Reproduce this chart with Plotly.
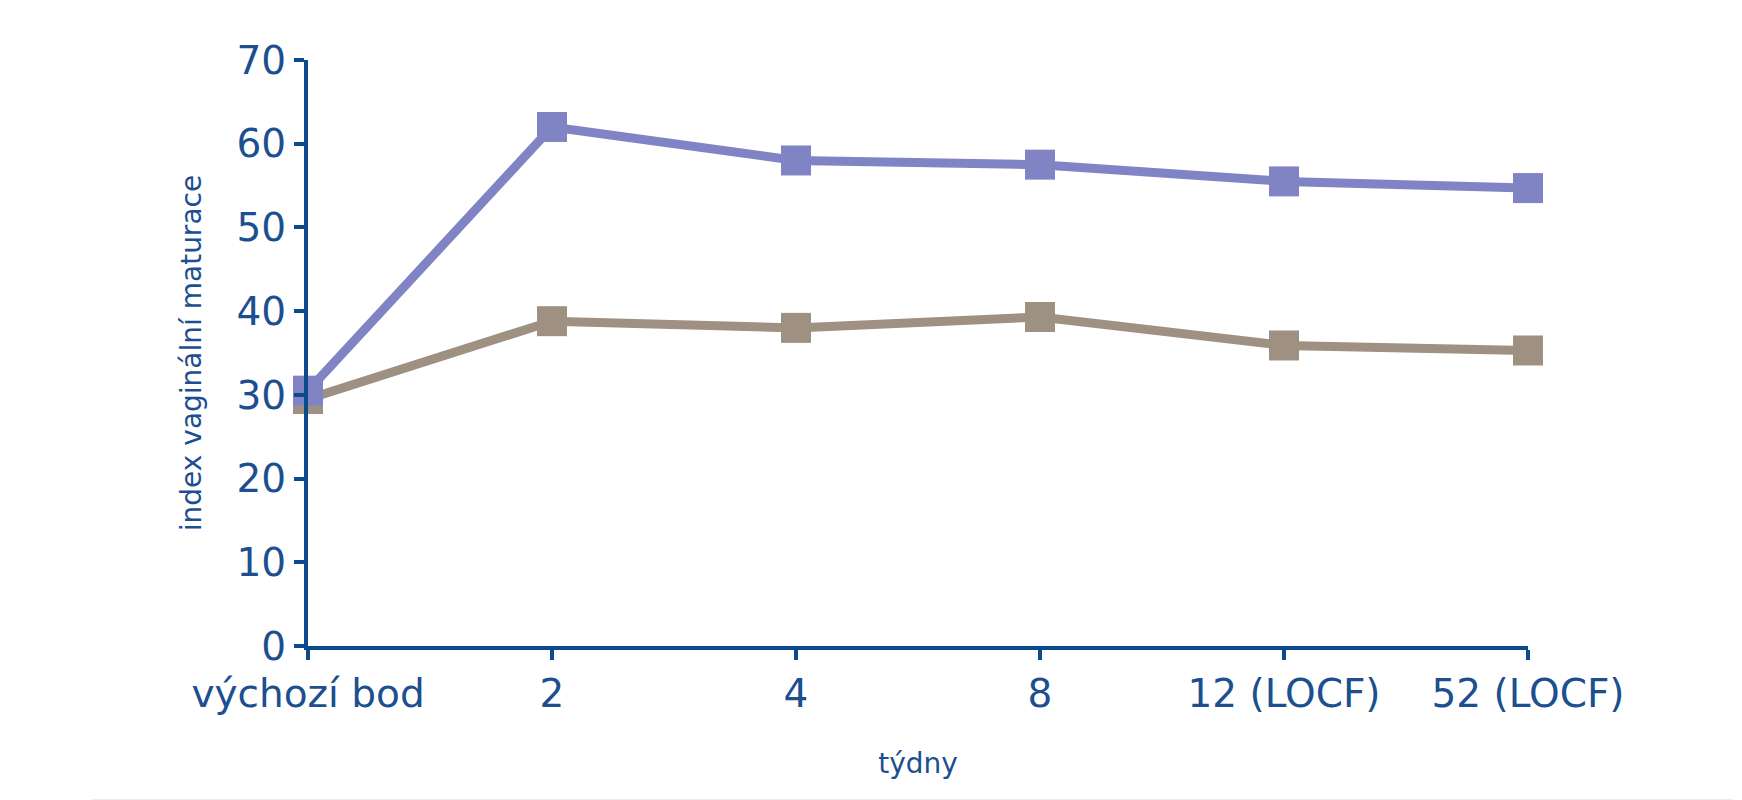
import plotly.graph_objects as go

# data
weeks = ["výchozí bod", "2", "4", "8", "12 (LOCF)", "52 (LOCF)"]
blue_vals = [30.5, 62.0, 58.0, 57.5, 55.5, 54.7]
brown_vals = [29.5, 38.8, 38.0, 39.3, 35.9, 35.3]
y_ticks = [0, 10, 20, 30, 40, 50, 60, 70]

axis_col = "#0b4a8c"
text_col = "#1c4f8f"

fig = go.Figure()

fig.add_trace(go.Scatter(
    x=list(range(len(weeks))), y=brown_vals, mode="lines+markers",
    line=dict(color="#9e9182", width=9),
    marker=dict(symbol="square", size=30, color="#9e9182"),
    cliponaxis=False, showlegend=False
))
fig.add_trace(go.Scatter(
    x=list(range(len(weeks))), y=blue_vals, mode="lines+markers",
    line=dict(color="#8084c4", width=9),
    marker=dict(symbol="square", size=30, color="#8084c4"),
    cliponaxis=False, showlegend=False
))

fig.update_xaxes(
    range=[0, len(weeks) - 1], tickvals=list(range(len(weeks))), ticktext=weeks,
    showgrid=False, zeroline=False, showline=True, linecolor=axis_col, linewidth=4,
    ticks="outside", ticklen=10, tickwidth=4, tickcolor=axis_col,
    tickfont=dict(family="DejaVu Sans", size=39, color=text_col),
    title=dict(text="týdny", font=dict(family="DejaVu Sans", size=28, color=text_col), standoff=40)
)
fig.update_yaxes(
    range=[0, 70], tickvals=y_ticks,
    showgrid=False, zeroline=False, showline=True, linecolor=axis_col, linewidth=4,
    ticks="outside", ticklen=10, tickwidth=4, tickcolor=axis_col,
    tickfont=dict(family="DejaVu Sans", size=39, color=text_col),
    title=dict(text="index vaginální maturace", font=dict(family="DejaVu Sans", size=28, color=text_col), standoff=28)
)

# thin light rule at the bottom of the picture
fig.add_shape(type="line", xref="paper", yref="paper",
              x0=-0.177, x1=1.168, y0=-0.265, y1=-0.265,
              line=dict(color="#dde9f5", width=4))

fig.update_layout(
    width=1742, height=800,
    margin=dict(l=300, r=222, t=52, b=162),
    paper_bgcolor="white", plot_bgcolor="white"
)

fig.write_html("out.html")
